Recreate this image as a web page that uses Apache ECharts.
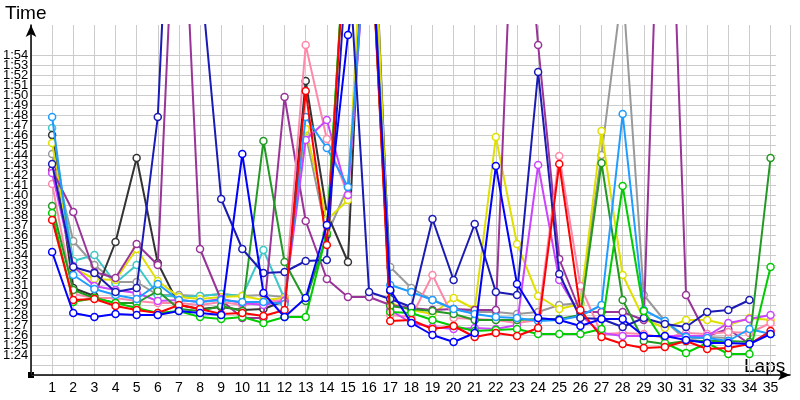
<!DOCTYPE html>
<html><head><meta charset="utf-8">
<script src="https://cdn.jsdelivr.net/npm/echarts@6/dist/echarts.min.js"></script>
<style>html,body{margin:0;padding:0;background:#fff}#c{width:800px;height:400px}</style>
</head><body><div id="c"></div>
<script>
const laps = [1,2,3,4,5,6,7,8,9,10,11,12,13,14,15,16,17,18,19,20,21,22,23,24,25,26,27,28,29,30,31,32,33,34,35];
const yTickSeconds = [84,85,86,87,88,89,90,91,92,93,94,95,96,97,98,99,100,101,102,103,104,105,106,107,108,109,110,111,112,113,114];
const seriesNames = ['gray','cyan','black','yellow','purple','pink','violet','darkgreen','lightblue','navy','green','red','blue'];
const seriesColors = ['#999999','#3cc8c8','#333333','#e0e000','#993399','#ff88aa','#cc44ff','#229922','#1e9cff','#1a1ab4','#00cc00','#ff0000','#0000ff'];

const gray      = [104.1,95.4,93.0,91.3,91.3,90.0,90.0,89.9,90.1,89.9,90.0,89.8,106.1,96.0,100.8,130,92.8,90.7,89.5,88.6,88.3,88.3,88.1,88.3,89.0,89.2,104.0,121,90.0,87.4,85.5,85.8,85.7,null,null];
const cyan      = [106.7,93.4,94.0,91.2,93.0,90.0,89.8,89.9,90.1,89.9,94.5,89.6,null,null,null,null,null,null,null,null,null,null,null,null,null,null,null,null,null,null,null,null,null,null,null];
const black     = [106.0,90.7,89.9,95.3,103.7,93.2,89.0,88.6,88.8,88.5,88.6,89.4,111.4,98.2,93.3,140,90.4,null,null,null,null,null,null,null,null,null,null,null,null,null,null,null,null,null,null];
const yellow    = [105.2,92.7,91.6,91.5,94.6,91.4,89.8,89.6,89.8,89.9,89.5,89.7,106.6,97.5,99.5,140,89.2,88.5,88.1,89.7,88.6,105.8,95.1,89.9,88.6,89.1,106.4,92.0,87.6,86.7,87.5,87.5,87.0,87.7,87.5];
const purple    = [102.5,98.3,92.3,91.7,95.1,93.0,140,94.6,89.5,87.7,87.7,109.8,97.4,91.6,89.8,89.8,89.0,88.7,88.5,88.6,88.5,88.5,140,115.0,93.6,88.3,88.3,88.3,87.5,150,90.0,85.9,86.6,85.1,null];
const pink      = [101.1,90.1,89.7,89.7,89.4,89.2,89.2,89.0,89.3,89.0,89.3,89.5,115.0,105.6,100.0,130,88.0,87.8,92.0,87.7,87.6,87.5,87.2,87.5,103.9,90.9,86.1,86.2,86.1,85.7,86.2,86.1,86.3,86.2,87.2];
const violet    = [102.2,92.9,90.9,90.5,90.2,89.4,89.5,89.3,89.6,89.2,89.0,89.4,105.5,107.5,100.0,130,88.5,87.2,86.8,86.6,86.7,86.6,87.0,103.0,91.5,88.0,86.2,85.9,85.9,85.9,85.9,85.9,87.2,87.6,88.0];
const darkgreen = [98.9,90.5,89.7,89.2,89.2,90.4,88.6,88.4,88.9,88.4,105.4,93.3,89.4,96.0,130,130,88.9,88.6,88.4,88.1,87.5,87.5,87.5,87.6,87.6,88.0,103.2,89.5,85.4,85.1,85.4,85.4,85.4,85.3,103.7];
const lightblue = [107.8,92.0,90.6,90.0,89.6,91.1,89.5,89.3,89.5,89.3,89.3,89.1,107.8,104.7,100.8,130,91.0,90.3,89.5,88.6,88.1,87.8,87.7,87.4,87.5,87.9,89.0,108.1,88.5,87.4,85.8,85.7,85.4,86.6,86.1];
const navy      = [103.1,92.8,92.2,90.3,90.7,107.8,153,122.7,99.6,94.6,92.2,92.3,93.4,93.5,125,90.3,89.6,88.8,97.6,91.5,97.1,90.3,90.0,112.3,92.1,87.7,87.6,86.8,87.7,87.1,86.8,88.3,88.5,89.5,null];
const green     = [98.2,89.3,89.7,89.2,88.7,88.2,88.4,87.8,87.6,87.8,87.2,87.8,87.8,96.2,130,130,88.3,88.2,87.5,86.9,86.4,86.5,86.6,86.1,86.1,86.1,86.6,100.9,88.4,85.2,84.2,85.2,84.1,84.1,92.8];
const red       = [97.5,89.5,89.6,88.9,88.5,88.2,89.0,88.6,88.1,88.2,87.9,88.5,110.4,95.0,130,130,87.4,87.5,86.6,86.9,85.8,86.2,85.9,86.7,103.1,88.5,85.8,85.1,84.7,84.8,85.4,84.6,84.7,85.1,86.4];
const blue      = [94.3,88.2,87.8,88.1,88.0,88.0,88.4,88.2,88.0,104.1,90.2,87.8,89.7,97.0,116.0,130,90.5,87.2,86.0,85.3,86.2,102.9,91.1,87.7,87.5,86.9,87.6,87.6,85.9,85.9,85.5,85.2,85.2,85.1,86.1];

const allData = [gray,cyan,black,yellow,purple,pink,violet,darkgreen,lightblue,navy,green,red,blue];

const fmtTime = v => { const s = v - 60; return '1:' + (s < 10 ? '0' : '') + s; };
const FONT = 'Liberation Sans';

const chart = echarts.init(document.getElementById('c'), null, {renderer:'canvas'});
const series = allData.map((arr, k) => ({
  name: seriesNames[k], type: 'line', xAxisIndex: 0, yAxisIndex: 0,
  data: arr.map((v, i) => [laps[i], v]),
  symbol: 'circle', symbolSize: 7, showAllSymbol: true,
  itemStyle: {color: '#fff', borderColor: seriesColors[k], borderWidth: 1.5},
  lineStyle: {color: seriesColors[k], width: 2},
  clip: true, animation: false, z: 3 + k
}));

chart.setOption({
  animation: false,
  grid: [
    {left: 31, right: 10, top: 25, bottom: 25},
    {left: 31, right: 24, top: 55, bottom: 25}
  ],
  xAxis: [
    {gridIndex: 0, type: 'value', min: 0, max: 35.92, interval: 1,
     axisLine: {show: true, symbol: ['none','arrow'], symbolSize: [8, 12], lineStyle: {color: '#000', width: 1.5}},
     axisTick: {show: false},
     axisLabel: {color: '#000', fontSize: 14, fontFamily: FONT, margin: 6,
       formatter: v => (Number.isInteger(v) && v >= 1 && v <= 35) ? String(v) : ''},
     splitLine: {show: true, lineStyle: {color: '#cccccc', width: 1}}},
    {gridIndex: 1, type: 'value', min: 0, max: 35.26, show: false}
  ],
  yAxis: [
    {gridIndex: 0, type: 'value', min: 82, max: 117,
     axisLine: {show: true, symbol: ['none','arrow'], symbolSize: [8, 12], lineStyle: {color: '#000', width: 1.5}},
     axisTick: {show: false}, axisLabel: {show: false}, splitLine: {show: false}},
    {gridIndex: 1, type: 'value', min: 82, max: 114.01, interval: 1,
     axisLine: {show: false}, axisTick: {show: false},
     axisLabel: {color: '#000', fontSize: 13, fontFamily: FONT, margin: 3,
       showMaxLabel: false, showMinLabel: true, hideOverlap: false,
       formatter: v => (Number.isInteger(v) && yTickSeconds.includes(v)) ? fmtTime(v) : ''},
     splitLine: {show: true, lineStyle: {color: '#cccccc', width: 1}}}
  ],
  graphic: [
    {type: 'text', left: 5, top: 4, style: {text: 'Time', font: '19px ' + FONT, fill: '#000'}},
    {type: 'text', left: 744, top: 357, style: {text: 'Laps', font: '19px ' + FONT, fill: '#000'}},
    {type: 'rect', shape: {x: 28, y: 372, width: 6, height: 6}, style: {fill: '#000'}}
  ],
  series: series
});
</script></body></html>
